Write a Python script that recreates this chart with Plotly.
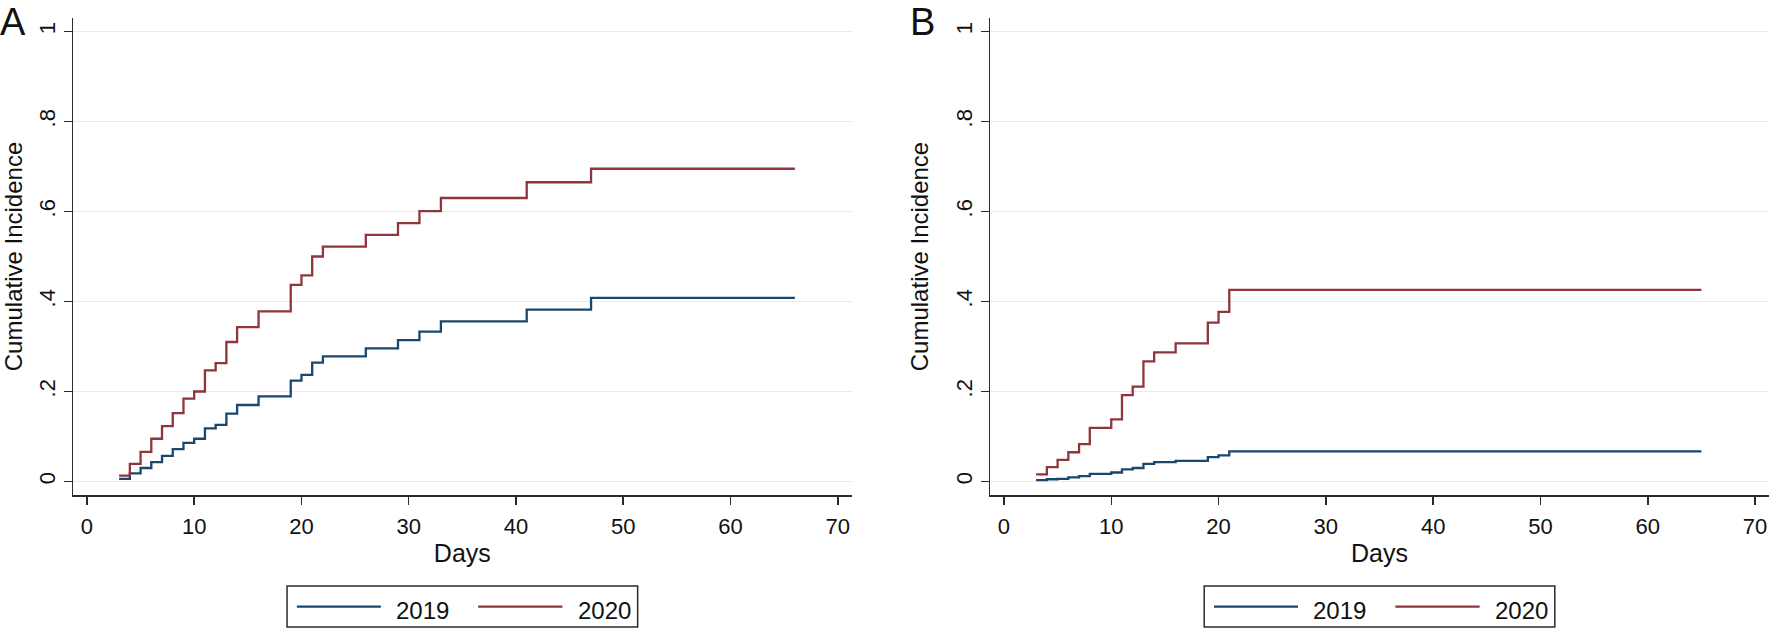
import plotly.graph_objects as go

# ---------------- data ----------------
days_A = [3, 4, 5, 6, 7, 8, 9, 10, 11, 12, 13, 14, 16, 19, 20, 21, 22, 26, 29, 31, 33, 41, 47, 66]
ci_A_2019 = [0.006, 0.018, 0.030, 0.043, 0.057, 0.072, 0.086, 0.095, 0.118, 0.126, 0.151, 0.170,
             0.189, 0.224, 0.237, 0.264, 0.278, 0.296, 0.314, 0.333, 0.356, 0.382, 0.408, 0.408]
ci_A_2020 = [0.013, 0.039, 0.066, 0.095, 0.123, 0.152, 0.184, 0.200, 0.247, 0.263, 0.310, 0.343,
             0.378, 0.437, 0.458, 0.500, 0.522, 0.548, 0.574, 0.601, 0.630, 0.665, 0.695, 0.695]

days_B = [3, 4, 5, 6, 7, 8, 10, 11, 12, 13, 14, 16, 19, 20, 21, 65]
ci_B_2019 = [0.003, 0.005, 0.006, 0.009, 0.012, 0.017, 0.020, 0.027, 0.030, 0.039, 0.043, 0.046,
             0.054, 0.058, 0.067, 0.067]
ci_B_2020 = [0.016, 0.032, 0.048, 0.065, 0.083, 0.119, 0.138, 0.192, 0.211, 0.267, 0.287, 0.307,
             0.353, 0.377, 0.426, 0.426]

series_names = ["2019", "2020"]
x_ticks = [0, 10, 20, 30, 40, 50, 60, 70]
y_ticks = [0, 0.2, 0.4, 0.6, 0.8, 1]
y_ticktext = ["0", ".2", ".4", ".6", ".8", "1"]
panel_labels = ["A", "B"]

# ---------------- style ----------------
W, H = 1769, 628
ML, MR, MT, MB = 73, 0, 18, 133
PW, PH = W - ML - MR, H - MT - MB
FONT = "Liberation Sans, Arial, sans-serif"
BLUE = "#1a476f"
RED = "#90353b"
GRID = "#e4ecef"
AXC = "#2b2b2b"


def px2x(px):
    return (px - ML) / PW


def py2y(py):
    return (H - MB - py) / PH


domA = [0.0, px2x(851.7)]
domB = [px2x(990.0), 1.0]

fig = go.Figure()

panels = [
    ("x", "y", days_A, ci_A_2019, ci_A_2020),
    ("x2", "y2", days_B, ci_B_2019, ci_B_2020),
]
for xa, ya, d, s19, s20 in panels:
    for name, vals, col in [(series_names[0], s19, BLUE), (series_names[1], s20, RED)]:
        fig.add_trace(go.Scatter(
            x=d, y=vals, mode="lines", name=name, xaxis=xa, yaxis=ya,
            line=dict(color=col, width=2.3, shape="hv"), showlegend=False,
        ))

xcommon = dict(
    range=[-1.3, 71.3], tickmode="array", tickvals=x_ticks,
    showgrid=False, zeroline=False, showline=True, linecolor=AXC, linewidth=1.5,
    ticks="outside", ticklen=8, tickwidth=1.5, tickcolor=AXC, ticklabelstandoff=3,
    tickfont=dict(family=FONT, size=22, color="#111"),
    title=dict(text="Days", font=dict(family=FONT, size=25, color="#111"), standoff=6),
    fixedrange=True,
)
ycommon = dict(
    range=[-0.03, 1.03], tickmode="array", tickvals=y_ticks, ticktext=y_ticktext,
    tickangle=-90,
    showgrid=True, gridcolor=GRID, gridwidth=1.5, zeroline=False,
    showline=True, linecolor=AXC, linewidth=1.5,
    ticks="outside", ticklen=8, tickwidth=1.5, tickcolor=AXC,
    tickfont=dict(family=FONT, size=22, color="#111"),
    title=dict(text="Cumulative Incidence", font=dict(family=FONT, size=24, color="#111"), standoff=16),
    fixedrange=True,
)

fig.update_layout(
    width=W, height=H,
    margin=dict(l=ML, r=MR, t=MT, b=MB, autoexpand=False),
    paper_bgcolor="white", plot_bgcolor="white",
    font=dict(family=FONT, color="#111"),
    xaxis=dict(domain=domA, anchor="y", **xcommon),
    yaxis=dict(domain=[0, 1], anchor="x", **ycommon),
    xaxis2=dict(domain=domB, anchor="y2", **xcommon),
    yaxis2=dict(domain=[0, 1], anchor="x2", **ycommon),
    showlegend=False,
)

# panel labels
fig.add_annotation(text=panel_labels[0], xref="paper", yref="paper", x=px2x(-1), y=py2y(0),
                   xanchor="left", yanchor="top", showarrow=False, borderpad=0,
                   font=dict(family=FONT, size=38, color="#111"))
fig.add_annotation(text=panel_labels[1], xref="paper", yref="paper", x=px2x(909), y=py2y(0),
                   xanchor="left", yanchor="top", showarrow=False, borderpad=0,
                   font=dict(family=FONT, size=38, color="#111"))

# legends (one per panel), drawn below each panel
for dom in (domA, domB):
    cx = ML + PW * (dom[0] + dom[1]) / 2
    fig.add_shape(type="rect", xref="paper", yref="paper",
                  x0=px2x(cx - 175.3), x1=px2x(cx + 175.3), y0=py2y(586), y1=py2y(627.0),
                  line=dict(color=AXC, width=1.5), fillcolor="white")
    for (lx0, lx1, tx), name, col in [((-165.5, -81.5, -68.2), series_names[0], BLUE),
                                       ((15.8, 100.1, 113.5), series_names[1], RED)]:
        fig.add_shape(type="line", xref="paper", yref="paper",
                      x0=px2x(cx + lx0), x1=px2x(cx + lx1), y0=py2y(606.7), y1=py2y(606.7),
                      line=dict(color=col, width=2.2))
        fig.add_annotation(text=name, xref="paper", yref="paper", x=px2x(cx + tx), y=py2y(610.5),
                           xanchor="left", yanchor="middle", showarrow=False,
                           font=dict(family=FONT, size=24, color="#111"))

fig.write_html(
    "out.html",
    config={"displayModeBar": False, "staticPlot": True},
    post_script="document.body.style.margin='0';document.body.style.overflow='hidden';",
)
